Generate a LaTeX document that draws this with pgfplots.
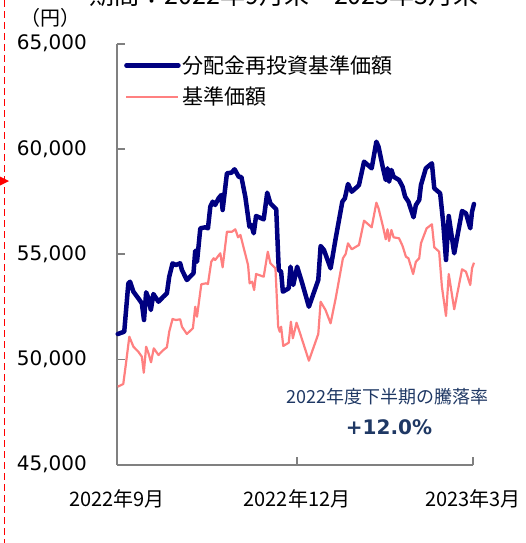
\documentclass[border=0pt]{standalone}
\usepackage{fontspec}
\setmainfont{Noto Sans CJK JP}
\newfontfamily\dejavu{DejaVu Sans}
\usepackage{pgfplots}
\pgfplotsset{compat=1.18}
\definecolor{navyline}{RGB}{0,0,128}
\definecolor{salmonline}{RGB}{255,128,128}
\definecolor{annot}{RGB}{31,56,100}
\definecolor{axgray}{RGB}{128,128,128}
\begin{document}
\begin{tikzpicture}[x=1pt,y=1pt]
\begin{axis}[
  at={(117pt,-464.5pt)}, anchor=south west,
  scale only axis, width=356pt, height=420.8pt,
  xmin=0, xmax=182, ymin=45000, ymax=65000,
  clip=false, scaled y ticks=false,
  axis x line=bottom, axis y line=left,
  axis line style={-, draw=axgray, line width=2pt},
  tick style={draw=axgray, line width=1.6pt},
  major tick length=8pt, tick align=inside,
  xtick={0,92,182},
  xticklabels={2022年9月,2022年12月,2023年3月},
  xticklabel style={font=\fontsize{20}{24}\selectfont, anchor=base, inner sep=0pt, yshift=-41.5pt},
  ytick={45000,50000,55000,60000,65000},
  yticklabels={{45,000},{50,000},{55,000},{60,000},{65,000}},
  yticklabel style={font=\dejavu\fontsize{20}{24}\selectfont, anchor=east, inner sep=0pt, xshift=-30pt},
  legend style={at={(axis description cs:0,1)}, anchor=north west, xshift=4pt, yshift=-8pt,
    draw=none, fill=none, font=\fontsize{21}{25}\selectfont, row sep=8pt},
  legend cell align=left,
  legend image code/.code={\draw[#1] (0pt,0pt) -- (52pt,0pt);},
]
\addplot[navyline, line width=4.5pt, line join=round, line cap=round] coordinates {
(0.4,51203)(3.7,51312)(5.8,53612)(6.7,53688)(8.4,53213)(10.9,52899)(12.7,52662)(13.8,51868)(14.9,53185)(16.1,52899)(17.3,52343)(18.6,53104)(21.2,52738)(23.7,52976)(25.5,53137)(26.7,53926)(28.4,54563)(30.1,54482)(32.3,54563)(33.2,54245)(35.7,53769)(39.1,54088)(40.0,55162)(40.9,54639)(42.6,56227)(45.1,56274)(46.5,56227)(47.7,57253)(48.9,57491)(50.2,57334)(51.9,57652)(53.3,57809)(54.0,57096)(56.2,58841)(58.5,58869)(60.1,59031)(62.3,58665)(63.6,58665)(65.6,57728)(67.7,56303)(68.7,56383)(69.9,55989)(71.1,56811)(75.0,56654)(76.8,57919)(78.4,57415)(81.4,57130)(82.7,54245)(83.9,54164)(84.8,53213)(87.8,53375)(88.7,54401)(90.1,53532)(92.1,54401)(94.7,53612)(98.1,52500)(102.9,53769)(104.1,55385)(105.8,55195)(109.2,54325)(111.8,55751)(115.2,57491)(116.5,57652)(118.1,58332)(120.0,57966)(122.9,58204)(123.7,58285)(126.3,59392)(130.2,59078)(132.6,60343)(133.7,60105)(136.0,59078)(137.4,58522)(138.3,59078)(139.1,58442)(140.3,58998)(141.4,58679)(144.2,58522)(146.0,58204)(147.3,57728)(149.0,57491)(151.6,56750)(152.8,57334)(154.5,57572)(155.4,58285)(157.9,59078)(161.0,59316)(162.2,58128)(165.2,57890)(166.8,56464)(168.2,54720)(169.6,56811)(172.4,55038)(176.4,57049)(178.4,56940)(180.6,56227)(181.5,57016)(182.5,57382)
};
\addlegendentry{分配金再投資基準価額}
\addplot[salmonline, line width=2.2pt, line join=round] coordinates {
(0.4,48698)(3.2,48826)(4.6,49810)(6.3,51074)(8.4,50599)(10.9,50361)(12.7,50124)(13.7,49363)(14.9,50599)(16.1,50285)(17.4,49858)(18.8,50523)(21.2,50205)(23.7,50442)(25.5,50571)(26.7,51312)(28.4,51916)(30.1,51868)(32.3,51901)(33.2,51550)(35.7,51203)(38.8,51474)(40.0,52500)(40.9,52025)(43.1,53565)(45.5,53612)(46.5,53579)(48.2,54639)(49.4,54801)(50.2,54720)(52.8,55038)(54.0,54373)(56.2,56065)(58.8,56065)(60.5,56179)(61.9,55799)(63.1,55908)(67.0,54482)(67.8,53612)(69.1,53688)(70.1,53294)(71.1,54054)(75.0,53926)(77.1,55114)(78.4,54563)(81.0,54325)(82.4,51550)(83.2,51312)(83.9,51550)(85.0,50632)(87.8,50789)(88.9,51787)(89.9,50998)(91.8,51740)(94.7,50917)(98.1,49934)(102.9,51203)(104.1,52738)(106.6,52343)(109.2,51711)(111.8,52899)(115.5,54801)(116.9,55005)(118.1,55514)(120.0,55229)(123.7,55433)(126.3,56588)(130.2,56274)(132.6,57443)(133.7,57177)(136.0,56303)(137.4,55704)(138.3,56179)(139.1,55623)(140.3,56146)(141.4,55799)(144.2,55751)(146.0,55385)(147.7,54877)(149.0,54801)(151.4,54054)(152.8,54639)(154.5,54801)(155.4,55514)(158.3,56227)(161.0,56417)(162.2,55323)(164.7,55114)(166.1,53451)(168.2,52058)(169.6,54054)(172.4,52377)(176.4,54278)(178.4,54164)(180.6,53532)(181.5,54325)(182.5,54592)
};
\addlegendentry{基準価額}
\end{axis}
\draw[red, line width=1.8pt, dash pattern=on 7pt off 4pt] (4.5,0) -- (4.5,-543);
\fill[red] (0,-176.5) -- (9,-181) -- (0,-185.5) -- cycle;
\node[font=\fontsize{25}{30}\selectfont, anchor=base, inner sep=0pt] at (284,-5) {期間：2022年9月末～2023年3月末};
\node[font=\fontsize{20}{24}\selectfont, inner sep=0pt] at (50,-18) {（円）};
\node[font=\fontsize{18}{22}\selectfont, text=annot, inner sep=0pt] at (387.5,-396.7) {2022年度下半期の騰落率};
\node[font=\dejavu\bfseries\fontsize{20}{24}\selectfont, text=annot, inner sep=0pt] at (389,-427) {+12.0\%};
\pgfresetboundingbox
\useasboundingbox (0,0) rectangle (525,-543);
\end{tikzpicture}
\end{document}
